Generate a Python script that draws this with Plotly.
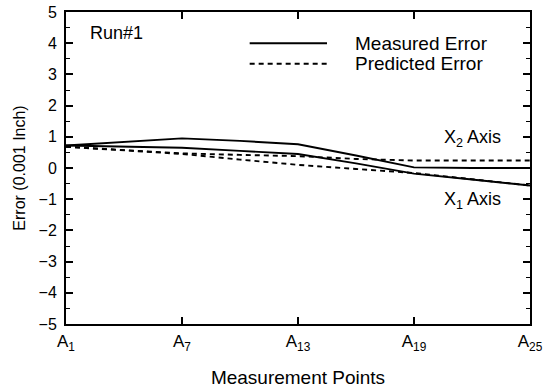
import plotly.graph_objects as go

# Measurement point indices and tick labels
points = [1, 4, 7, 10, 13, 16, 19, 22, 25]
tick_vals = [1, 7, 13, 19, 25]
tick_text = ["A<sub>1</sub>", "A<sub>7</sub>", "A<sub>13</sub>", "A<sub>19</sub>", "A<sub>25</sub>"]

# Error values (0.001 inch)
measured_x2 = [0.72, 0.84, 0.95, 0.87, 0.76, 0.40, 0.02, 0.0, 0.0]
measured_x1 = [0.72, 0.69, 0.65, 0.55, 0.45, 0.15, -0.18, -0.37, -0.56]
predicted_x2 = [0.68, 0.58, 0.47, 0.42, 0.38, 0.29, 0.24, 0.24, 0.24]
predicted_x1 = [0.68, 0.57, 0.45, 0.27, 0.10, -0.03, -0.16, -0.36, -0.56]

FONT = "Liberation Sans, Arial, Helvetica, sans-serif"
solid = dict(color="black", width=1.9)
dashed = dict(color="black", width=1.9, dash="5px,4px")

fig = go.Figure()
fig.add_trace(go.Scatter(x=points, y=measured_x2, mode="lines", line=solid, showlegend=False))
fig.add_trace(go.Scatter(x=points, y=measured_x1, mode="lines", line=solid, showlegend=False))
fig.add_trace(go.Scatter(x=points, y=predicted_x2, mode="lines", line=dashed, showlegend=False))
fig.add_trace(go.Scatter(x=points, y=predicted_x1, mode="lines", line=dashed, showlegend=False))

# Legend drawn as key lines + text
fig.add_shape(type="line", x0=10.5, x1=14.5, y0=4.0, y1=4.0, line=solid)
fig.add_shape(type="line", x0=10.5, x1=14.5, y0=3.34, y1=3.34, line=dashed)
for txt, yy in [("Measured Error", 4.0), ("Predicted Error", 3.34)]:
    fig.add_annotation(x=15.85, y=yy, text=txt, showarrow=False, xanchor="left",
                       yanchor="middle", font=dict(size=19, color="black", family=FONT))

fig.add_annotation(x=2.15, y=4.34, text="Run#1", showarrow=False, xanchor="left",
                   yanchor="middle", font=dict(size=18, color="black", family=FONT))
fig.add_annotation(x=22.0, y=0.95, text="X<sub>2</sub> Axis", showarrow=False,
                   xanchor="center", yanchor="middle", font=dict(size=18, color="black", family=FONT))
fig.add_annotation(x=22.0, y=-1.04, text="X<sub>1</sub> Axis", showarrow=False,
                   xanchor="center", yanchor="middle", font=dict(size=18, color="black", family=FONT))

fig.update_layout(
    width=546, height=388,
    margin=dict(l=66, r=16, t=12, b=64),
    paper_bgcolor="white", plot_bgcolor="white",
    font=dict(family=FONT, color="black", size=16),
    xaxis=dict(
        range=[1, 25], tickvals=tick_vals, ticktext=tick_text,
        ticks="inside", ticklen=7, tickwidth=1.5, tickcolor="black",
        showline=True, linecolor="black", linewidth=2, mirror="ticks",
        showgrid=False, zeroline=False, tickfont=dict(size=17),
        ticklabelstandoff=1, automargin=False,
        title=dict(text="Measurement Points", font=dict(size=19), standoff=20),
    ),
    yaxis=dict(
        range=[-5, 5], dtick=1, tick0=0,
        ticks="inside", ticklen=7, tickwidth=1.5, tickcolor="black",
        minor=dict(dtick=0.5, ticks="inside", ticklen=4, tickcolor="black", tickwidth=1.2),
        showline=True, linecolor="black", linewidth=2, mirror="ticks",
        showgrid=False, zeroline=False, tickfont=dict(size=16),
        ticklabelstandoff=4, automargin=False,
        title=dict(text="Error (0.001 Inch)", font=dict(size=16), standoff=9),
    ),
)

fig.write_html("out.html", config={"displayModeBar": False},
               post_script="document.body.style.margin='0';document.body.style.padding='0';")
